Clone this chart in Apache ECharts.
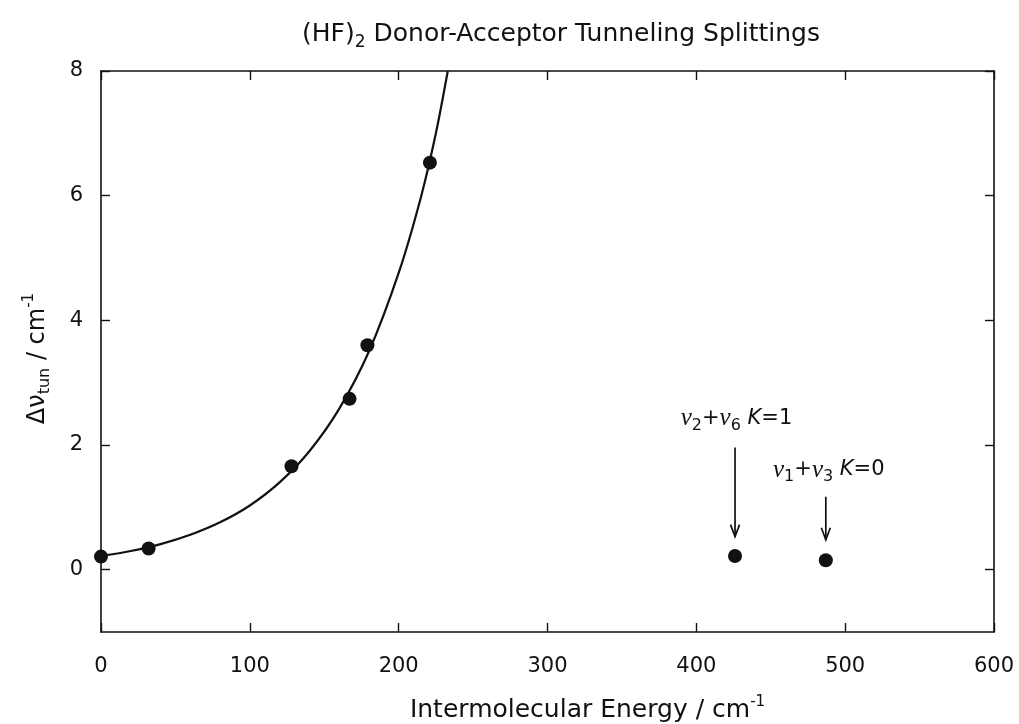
<!DOCTYPE html>
<html>
<head>
<meta charset="utf-8">
<script src="https://cdn.jsdelivr.net/npm/echarts@6/dist/echarts.min.js"></script>
<style>html,body{margin:0;padding:0;background:#fff}#c{width:1019px;height:724px}</style>
</head>
<body>
<div id="c"></div>
<script>
// ---- data ----
const xTicks = [0, 100, 200, 300, 400, 500, 600];
const yTicks = [0, 2, 4, 6, 8];
// measured tunneling splittings on the fitted progression
const fitPointsX = [0, 32, 128, 167, 179, 221];
const fitPointsY = [0.21, 0.34, 1.66, 2.74, 3.60, 6.53];
// combination-band states (annotated)
const bandX = [426, 487];
const bandY = [0.22, 0.15];
// fitted curve
const curveX = [0, 20, 40, 60, 80, 100, 120, 140, 160, 180, 200, 215, 225, 233];
const curveY = [0.22, 0.30, 0.41, 0.56, 0.76, 1.03, 1.40, 1.90, 2.58, 3.50, 4.76, 5.98, 7.00, 8.00];
// annotation arrows: x, y start, y end
const arrowX = [426, 487];
const arrowTop = [1.96, 1.17];
const arrowEnd = [0.53, 0.48];
// annotation labels
const annoX = [427, 489];
const annoY = [2.42, 1.60];
const annoText = ['{nu|ν}{sub|2}+{nu|ν}{sub|6} {k|K}=1', '{nu|ν}{sub|1}+{nu|ν}{sub|3} {k|K}=0'];

const INK = '#111';
const FONT = 'DejaVu Sans';

const zip = (a, b) => a.map((v, i) => [v, b[i]]);

const axisLineStyle = { color: INK, width: 1.6 };
const tickStyle = { inside: true, length: 9, lineStyle: { color: INK, width: 1.4 } };

const chart = echarts.init(document.getElementById('c'), null, { renderer: 'canvas' });
chart.setOption({
  backgroundColor: '#fff',
  animation: false,
  title: {
    text: '(HF){sub|2} Donor-Acceptor Tunneling Splittings',
    left: 556,
    top: 12,
    textAlign: 'center',
    textStyle: {
      fontFamily: FONT, fontSize: 25, fontWeight: 'normal', color: INK,
      rich: { sub: { fontFamily: FONT, fontSize: 17, color: INK, padding: [17, 0, 0, 0] } }
    }
  },
  grid: { left: 101, right: 25, top: 71, bottom: 92, containLabel: false, outerBoundsMode: 'none' },
  xAxis: [{
    type: 'value', min: 0, max: 600, interval: 100, position: 'bottom',
    axisLine: { onZero: false, lineStyle: axisLineStyle },
    axisTick: Object.assign({ customValues: xTicks }, tickStyle),
    axisLabel: { customValues: xTicks, fontFamily: FONT, fontSize: 21, color: INK, margin: 24 },
    splitLine: { show: false },
    name: 'Intermolecular Energy / cm{sup|-1}',
    nameLocation: 'middle', nameGap: 63,
    nameTextStyle: {
      fontFamily: FONT, fontSize: 25, color: INK, padding: [0, 0, 0, 80],
      rich: { sup: { fontFamily: FONT, fontSize: 15, color: INK, padding: [0, 0, 16, 0] } }
    }
  }, {
    type: 'value', min: 0, max: 600, interval: 100, position: 'top',
    axisLine: { onZero: false, lineStyle: axisLineStyle },
    axisTick: Object.assign({ customValues: xTicks }, tickStyle),
    axisLabel: { show: false },
    splitLine: { show: false }
  }],
  yAxis: [{
    type: 'value', min: -1, max: 8, interval: 1, position: 'left',
    axisLine: { show: true, onZero: false, lineStyle: axisLineStyle },
    axisTick: Object.assign({ customValues: yTicks }, tickStyle),
    axisLabel: { customValues: yTicks, fontFamily: FONT, fontSize: 21, color: INK, margin: 18 },
    splitLine: { show: false },
    name: 'Δ{nu|ν}{sub|tun} / cm{sup|-1}',
    nameLocation: 'middle', nameGap: 48, nameRotate: 90,
    nameTextStyle: {
      fontFamily: FONT, fontSize: 24, color: INK, padding: [0, 14, 0, 0],
      rich: {
        nu: { fontFamily: FONT, fontSize: 24, color: INK },
        sub: { fontFamily: FONT, fontSize: 16, color: INK, padding: [14, 0, 0, 0] },
        sup: { fontFamily: FONT, fontSize: 15, color: INK, padding: [0, 0, 16, 0] }
      }
    }
  }, {
    type: 'value', min: -1, max: 8, interval: 1, position: 'right',
    axisLine: { show: true, onZero: false, lineStyle: axisLineStyle },
    axisTick: Object.assign({ customValues: yTicks }, tickStyle),
    axisLabel: { show: false },
    splitLine: { show: false }
  }],
  series: [{
    type: 'line',
    data: zip(curveX, curveY),
    smooth: 0.3,
    showSymbol: false,
    lineStyle: { color: INK, width: 2.2 },
    clip: true,
    z: 2
  }, {
    type: 'scatter',
    data: zip(fitPointsX, fitPointsY),
    symbol: 'circle', symbolSize: 14,
    itemStyle: { color: INK, opacity: 1 },
    z: 3
  }, {
    type: 'scatter',
    data: zip(bandX, bandY),
    symbol: 'circle', symbolSize: 14,
    itemStyle: { color: INK, opacity: 1 },
    z: 3
  }, {
    type: 'custom',
    data: arrowX.map((x, i) => [x, arrowTop[i], arrowEnd[i]]),
    encode: { x: 0, y: [1, 2] },
    renderItem: function (params, api) {
      const p1 = api.coord([api.value(0), api.value(1)]);
      const p2 = api.coord([api.value(0), api.value(2)]);
      return {
        type: 'group',
        children: [{
          type: 'line',
          shape: { x1: p1[0], y1: p1[1], x2: p2[0], y2: p2[1] },
          style: { stroke: INK, lineWidth: 1.7 }
        }, {
          type: 'polyline',
          shape: { points: [[p2[0] - 4.5, p2[1] - 12], [p2[0], p2[1]], [p2[0] + 4.5, p2[1] - 12]] },
          style: { stroke: INK, lineWidth: 1.7, fill: null }
        }]
      };
    },
    z: 4
  }, {
    type: 'scatter',
    data: annoX.map((x, i) => ({ value: [x, annoY[i]], text: annoText[i] })),
    symbolSize: 0,
    silent: true,
    itemStyle: { opacity: 1 },
    label: {
      show: true, position: 'inside',
      formatter: p => p.data.text,
      fontFamily: FONT, fontSize: 21, color: INK, opacity: 1,
      rich: {
        nu: { fontFamily: 'Liberation Serif', fontStyle: 'italic', fontSize: 25, color: INK },
        sub: { fontFamily: FONT, fontSize: 16, color: INK, padding: [14, 0, 0, 0] },
        k: { fontFamily: FONT, fontStyle: 'italic', fontSize: 21, color: INK }
      }
    },
    z: 5
  }]
});
</script>
</body>
</html>
